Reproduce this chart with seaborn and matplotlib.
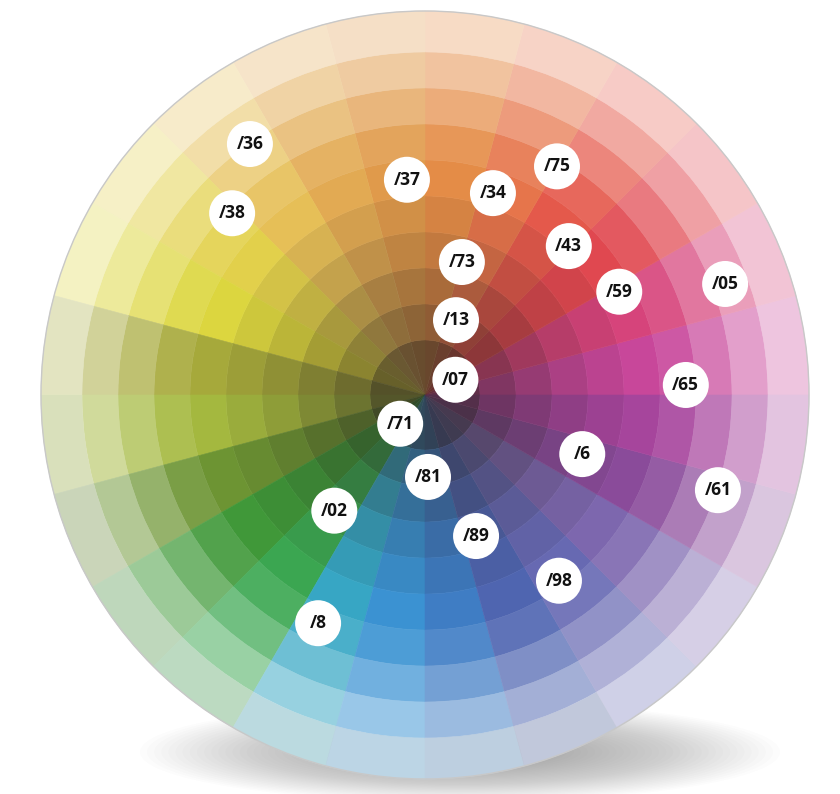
import numpy as np
import matplotlib.pyplot as plt
import seaborn as sns
from matplotlib.patches import Wedge, Circle, Ellipse

sns.set_theme(style="white")
plt.rcParams['font.family'] = ['Open Sans', 'DejaVu Sans']

# Hue sectors (start angle in degrees, counter-clockwise from east) and their full colour
sector_start = [0, 15, 30, 45, 60, 75, 90, 105, 120, 135, 150, 165,
                180, 195, 210, 225, 240, 255, 270, 285, 300, 315, 330, 345]
sector_color = ['#c8469a', '#d6437a', '#e0474f', '#e4584a', '#e6744a', '#e48c46',
                '#e09a4a', '#e2aa52', '#e6bf56', '#e2d04a', '#dcd63e', '#a6a93a',
                '#a4b83e', '#6c9432', '#3f9838', '#3aa650', '#36a6c4', '#3a92d2',
                '#3e7cc4', '#4e64b0', '#6668b2', '#7c66ae', '#8a4a9a', '#a6449c']
sector_width = 15

# Ring edges (pixels from centre) and shade of each ring: 0 = dark, 0.5 = full colour, 1 = white
ring_edges = [0, 55, 91, 127, 163, 199, 235, 271, 307, 343, 384]
ring_shade = [0.17, 0.27, 0.34, 0.41, 0.46, 0.50, 0.55, 0.64, 0.74, 0.84, 0.93]

# Code labels: text, angle (deg) and distance from the wheel centre
labels = ['/36', '/37', '/75', '/34', '/38', '/43', '/73', '/59', '/05', '/13',
          '/07', '/65', '/71', '/6', '/81', '/61', '/02', '/89', '/98', '/8']
label_angle = [124.9, 94.8, 60.0, 71.4, 136.7, 46.0, 74.5, 28.0, 20.3, 67.5,
               26.6, 2.2, 229.2, -20.6, -87.9, -18.0, 231.9, -70.1, -54.2, 244.9]
label_dist = [306, 216, 264, 213, 265, 207, 138, 220, 320, 81,
              34, 261, 38, 168, 82, 308, 147, 150, 229, 252]

W, H = 840, 794
cx, cy = 425, H - 395

fig = plt.figure(figsize=(8.4, 7.94), dpi=100)
ax = fig.add_axes([0, 0, 1, 1])
ax.set_xlim(0, W)
ax.set_ylim(0, H)
ax.axis('off')

# soft shadow under the plate
for k in range(40):
    s = 1 - k / 45
    ax.add_patch(Ellipse((460, H - 752), 640 * s, 100 * s, facecolor='#6a6a6a',
                         edgecolor='none', alpha=0.018, zorder=0))

# colour wheel
for start, col in zip(sector_start, sector_color):
    cmap = sns.blend_palette(['#2b2420', col, '#ffffff'], as_cmap=True)
    for i in range(len(ring_edges) - 1):
        r_in, r_out = ring_edges[i], ring_edges[i + 1]
        fc = cmap(ring_shade[i])
        ax.add_patch(Wedge((cx, cy), r_out, start, start + sector_width,
                           width=r_out - r_in, facecolor=fc, edgecolor=fc,
                           lw=0.4, zorder=2))

# plate rim: slight grey on the lower left, white gloss on top
ax.add_patch(Wedge((cx, cy), ring_edges[-1], 180, 300, width=ring_edges[-1] - ring_edges[-2],
                   facecolor='#9aa090', edgecolor='none', alpha=0.12, zorder=3))
ax.add_patch(Circle((cx, cy), ring_edges[-1], facecolor='none', edgecolor='#c8c8c8',
                    lw=1.0, zorder=4))

# white label badges
for txt, ang, dist in zip(labels, label_angle, label_dist):
    x = cx + dist * np.cos(np.radians(ang))
    y = cy + dist * np.sin(np.radians(ang))
    ax.add_patch(Circle((x, y), 23, facecolor='white', edgecolor='none', zorder=5))
    ax.text(x, y, txt, ha='center', va='center', fontsize=12.5, fontweight='bold',
            color='#111111', zorder=6)

fig.savefig('out.png', dpi=100)
plt.close(fig)
